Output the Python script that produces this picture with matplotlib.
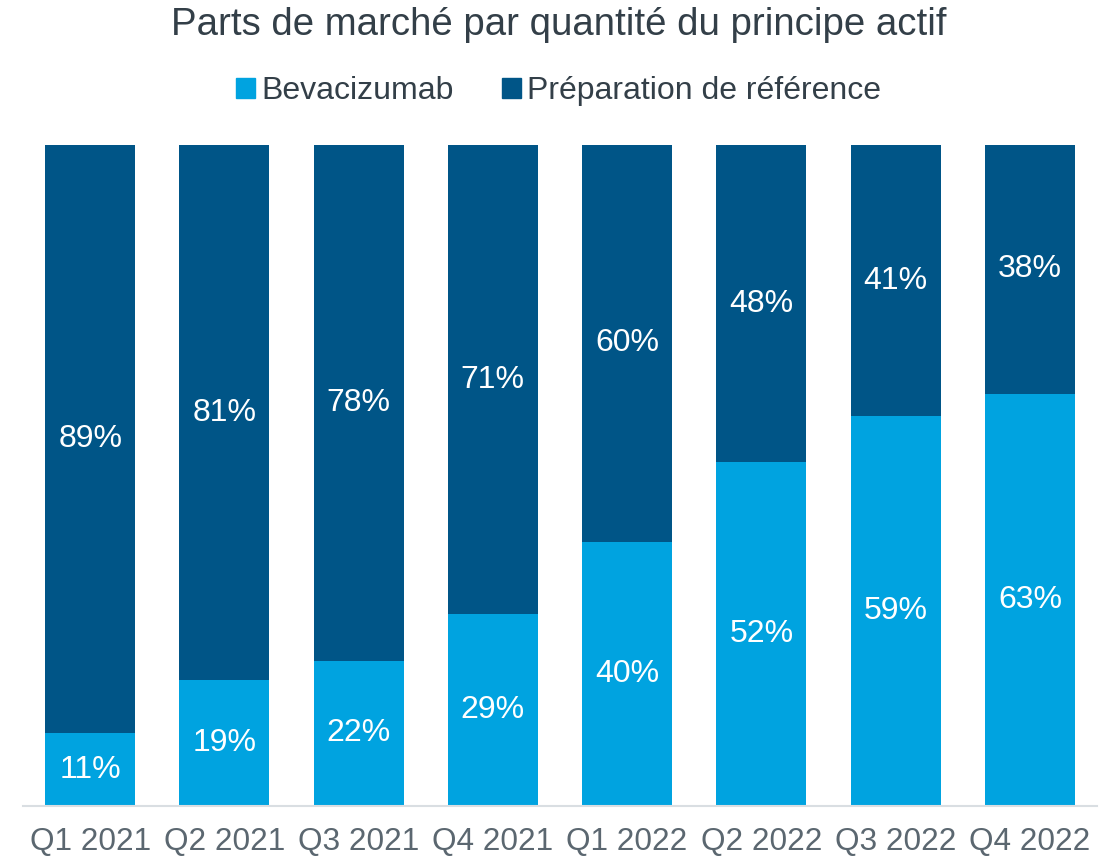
import matplotlib
matplotlib.use("Agg")
import matplotlib.pyplot as plt
import numpy as np
from matplotlib.patches import Patch

categories = ["Q1 2021", "Q2 2021", "Q3 2021", "Q4 2021", "Q1 2022", "Q2 2022", "Q3 2022", "Q4 2022"]
bevacizumab = [11, 19, 22, 29, 40, 52, 59, 63]
reference = [89, 81, 78, 71, 60, 48, 41, 38]
series_names = ["Bevacizumab", "Préparation de référence"]

c_light = "#00A3E0"
c_dark = "#005587"
plt.rcParams['font.family'] = ['Liberation Sans', 'DejaVu Sans']

fig = plt.figure(figsize=(11.17, 8.59), dpi=100)
ax = fig.add_axes([23/1117, 53/859, (1097-23)/1117, (806-145)/859])

b = np.array(bevacizumab, float)
r = np.array(reference, float)
tot = b + r
bs = b / tot * 100
rs = r / tot * 100
x = np.arange(len(categories))
w = 0.67
ax.bar(x, bs, w, color=c_light, label=series_names[0])
ax.bar(x, rs, w, bottom=bs, color=c_dark, label=series_names[1])
for i in range(len(x)):
    ax.text(x[i], bs[i]/2, f"{bevacizumab[i]}%", ha="center", va="center", color="white", fontsize=23)
    ax.text(x[i], bs[i] + rs[i]/2, f"{reference[i]}%", ha="center", va="center", color="white", fontsize=23)

ax.set_xlim(-0.5, len(x)-0.5)
ax.set_ylim(0, 100)
ax.set_yticks([])
ax.set_xticks(x)
ax.set_xticklabels(categories, fontsize=22.7, color="#5B6770")
ax.tick_params(axis="x", length=0, pad=15)
for s in ["top", "right", "left"]:
    ax.spines[s].set_visible(False)
ax.spines["bottom"].set_color("#D9DEE2")
ax.spines["bottom"].set_linewidth(1.5)

fig.text(0.5, 1 - 25/859, "Parts de marché par quantité du principe actif", ha="center", va="center",
         fontsize=27.6, color="#333F48")
handles = [Patch(color=c_light), Patch(color=c_dark)]
fig.legend(handles, series_names, loc="center", bbox_to_anchor=(0.5, 1 - 91/859), ncol=2, frameon=False,
           fontsize=23, labelcolor="#333F48", handlelength=0.6, handleheight=0.6, handletextpad=0.2,
           columnspacing=1.5)
fig.savefig("out.png", dpi=100)
